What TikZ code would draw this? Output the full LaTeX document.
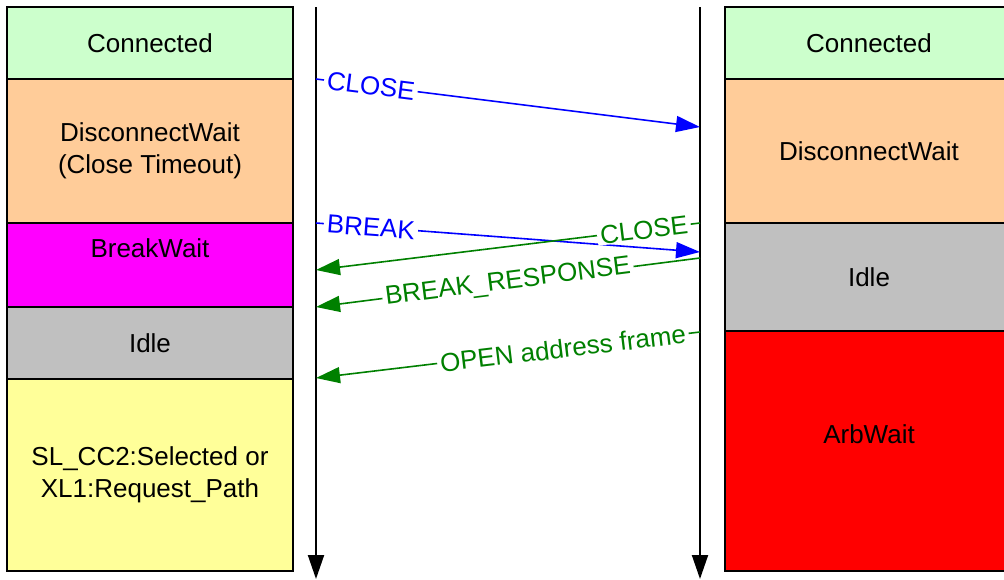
\documentclass[tikz,border=0pt]{standalone}
\usepackage{fontspec}
\setmainfont{Liberation Sans}
\usetikzlibrary{arrows.meta}
\definecolor{stConnected}{HTML}{CCFFCC}
\definecolor{stDiscWait}{HTML}{FFCC99}
\definecolor{stBreakWait}{HTML}{FF00FF}
\definecolor{stIdle}{HTML}{C0C0C0}
\definecolor{stSelected}{HTML}{FFFF99}
\definecolor{stArbWait}{HTML}{FF0000}
\definecolor{msggreen}{HTML}{008000}
\definecolor{msgblue}{HTML}{0000FF}
\begin{document}
\begin{tikzpicture}[x=1pt,y=-1pt,
  statebox/.style={draw=black, line width=1.5pt, align=center, inner sep=0pt,
    font=\fontsize{26}{32}\selectfont},
  leftbox/.style={statebox, minimum width=286pt},
  rightbox/.style={statebox, minimum width=288pt},
  lifeline/.style={line width=2pt, -{Triangle[length=24pt,width=16pt]}},
  msg/.style={line width=1.6pt, -{Triangle[length=24pt,width=16pt]}},
  fwd/.style={msg, draw=msgblue},
  back/.style={msg, draw=msggreen},
  msglabel/.style={fill=white, sloped, inner xsep=3pt, inner ysep=1pt,
    font=\fontsize{26}{30}\selectfont}]
\useasboundingbox (0,0) rectangle (1004,579);
\clip (0,0) rectangle (1004,579);

% state stacks
\node[leftbox, fill=stConnected, minimum height=72pt] (l1) at (150,43) {Connected};
\node[leftbox, fill=stDiscWait, minimum height=144pt] (l2) at (150,151) {DisconnectWait\\(Close Timeout)};
\node[leftbox, fill=stBreakWait, minimum height=84pt,
  label={[yshift=17pt, font=\fontsize{26}{32}\selectfont]center:BreakWait}] (l3) at (150,265) {};
\node[leftbox, fill=stIdle, minimum height=72pt] (l4) at (150,343) {Idle};
\node[leftbox, fill=stSelected, minimum height=192pt] (l5) at (150,475) {SL\_CC2:Selected or\\XL1:Request\_Path};

\node[rightbox, fill=stConnected, minimum height=72pt] (r1) at (869,43) {Connected};
\node[rightbox, fill=stDiscWait, minimum height=144pt] (r2) at (869,151) {DisconnectWait};
\node[rightbox, fill=stIdle, minimum height=108pt] (r3) at (869,277) {Idle};
\node[rightbox, fill=stArbWait, minimum height=240pt,
  label={[yshift=17pt, font=\fontsize{26}{32}\selectfont]center:ArbWait}] (r4) at (869,451) {};

% lifelines
\coordinate (Ltop) at (316,7);
\coordinate (Lbot) at (316,579);
\coordinate (Rtop) at (700,7);
\coordinate (Rbot) at (700,579);
\draw[lifeline] (Ltop) -- (Lbot);
\draw[lifeline] (Rtop) -- (Rbot);

% message end points on the lifelines
\coordinate (closeA) at (316,79);   \coordinate (closeB) at (700,127);
\coordinate (breakA) at (316,223);  \coordinate (breakB) at (700,252);
\coordinate (rcloseA) at (700,223); \coordinate (rcloseB) at (316,270);
\coordinate (brespA) at (700,258);  \coordinate (brespB) at (316,307);
\coordinate (openA) at (700,332);   \coordinate (openB) at (316,378);

% messages
\draw[fwd] (closeA) -- node[msglabel, text=msgblue, pos=0.143] {CLOSE} (closeB);
\draw[fwd] (breakA) -- node[msglabel, text=msgblue, pos=0.143] {BREAK} (breakB);
\draw[back] (rcloseA) -- node[msglabel, text=msggreen, pos=0.146] {CLOSE} (rcloseB);
\draw[back] (brespA) -- node[msglabel, text=msggreen, pos=0.5] {BREAK\_RESPONSE} (brespB);
\draw[back] (openA) -- node[msglabel, text=msggreen, pos=0.357] {OPEN address frame} (openB);
\end{tikzpicture}
\end{document}
